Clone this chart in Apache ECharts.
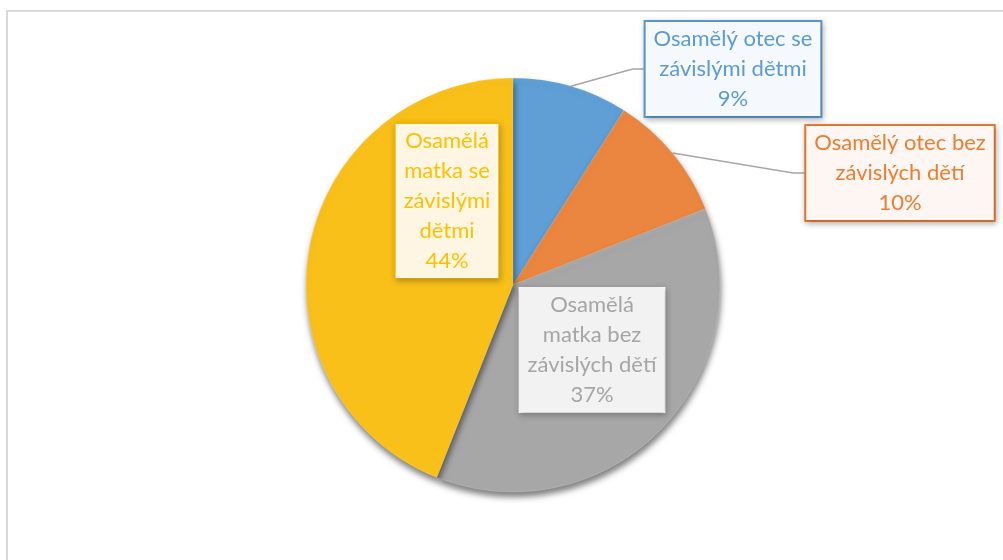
<!DOCTYPE html>
<html>
<head>
<meta charset="utf-8">
<script src="https://cdn.jsdelivr.net/npm/echarts@6/dist/echarts.min.js"></script>
<style>
html,body{margin:0;padding:0;background:#fff;}
#chart{width:1003px;height:560px;}
</style>
</head>
<body>
<div id="chart"></div>
<script>
var categories = ['Osamělý otec se\nzávislými dětmi', 'Osamělý otec bez\nzávislých dětí', 'Osamělá\nmatka bez\nzávislých dětí', 'Osamělá\nmatka se\nzávislými\ndětmi'];
var values = [9, 10, 37, 44];
var sliceColors = ['#5F9FD6', '#EA8640', '#A7A7A7', '#F9C01A'];
var textColors = ['#5B9BD5', '#ED7D31', '#A5A5A5', '#FFC000'];
var boxFills = ['#F5F8FC', '#FDF6F2', '#F2F2F2', '#FFF5E3'];
var boxBorders = ['#5B9BD5', '#ED7D31', '#FFFFFF', '#FFC000'];
var labelPos = ['outside', 'outside', 'inside', 'inside'];
// label box centres (layout only)
var labelCenters = [[733, 69], [900, 173], [592, 350], [447, 201]];

var chart = echarts.init(document.getElementById('chart'), null, {renderer: 'canvas'});
var data = values.map(function (v, i) {
  return {
    name: categories[i],
    value: v,
    itemStyle: {color: sliceColors[i]},
    label: {
      position: labelPos[i],
      color: textColors[i],
      backgroundColor: boxFills[i],
      borderColor: boxBorders[i],
      borderWidth: i < 2 ? 2 : 1
    },
    labelLine: {show: i < 2}
  };
});

chart.setOption({
  animation: false,
  graphic: [{
    type: 'rect', silent: true, z: -1,
    shape: {x: 7, y: 11, width: 1100, height: 700},
    style: {fill: 'none', stroke: '#D9D9D9', lineWidth: 2}
  }],
  series: [{
    type: 'pie',
    center: [513, 285],
    radius: 207,
    startAngle: 90,
    clockwise: true,
    data: data,
    itemStyle: {
      borderColor: 'rgba(255,255,255,0.15)',
      borderWidth: 1,
      shadowBlur: 6,
      shadowOffsetX: 1,
      shadowOffsetY: 5,
      shadowColor: 'rgba(0,0,0,0.5)'
    },
    emphasis: {disabled: true},
    label: {
      show: true,
      formatter: function (p) { return p.name + '\n' + p.percent.toFixed(0) + '%'; },
      fontFamily: 'Lato',
      fontSize: 22,
      lineHeight: 30,
      align: 'center',
      padding: [2, 8, 2, 8],
      shadowBlur: 6,
      shadowColor: 'rgba(0,0,0,0.25)',
      shadowOffsetX: 1,
      shadowOffsetY: 2
    },
    labelLine: {
      lineStyle: {color: '#A6A6A6', width: 1.5},
      length: 20, length2: 10
    },
    labelLayout: function (params) {
      var i = params.dataIndex;
      var c = labelCenters[i];
      var res = {x: c[0], y: c[1], align: 'center', verticalAlign: 'middle'};
      if (i < 2 && params.labelLinePoints) {
        var start = params.labelLinePoints[0];
        var left = c[0] - params.labelRect.width / 2;
        res.labelLinePoints = [start, [left - 11, c[1]], [left, c[1]]];
      }
      return res;
    }
  }]
});
</script>
</body>
</html>
